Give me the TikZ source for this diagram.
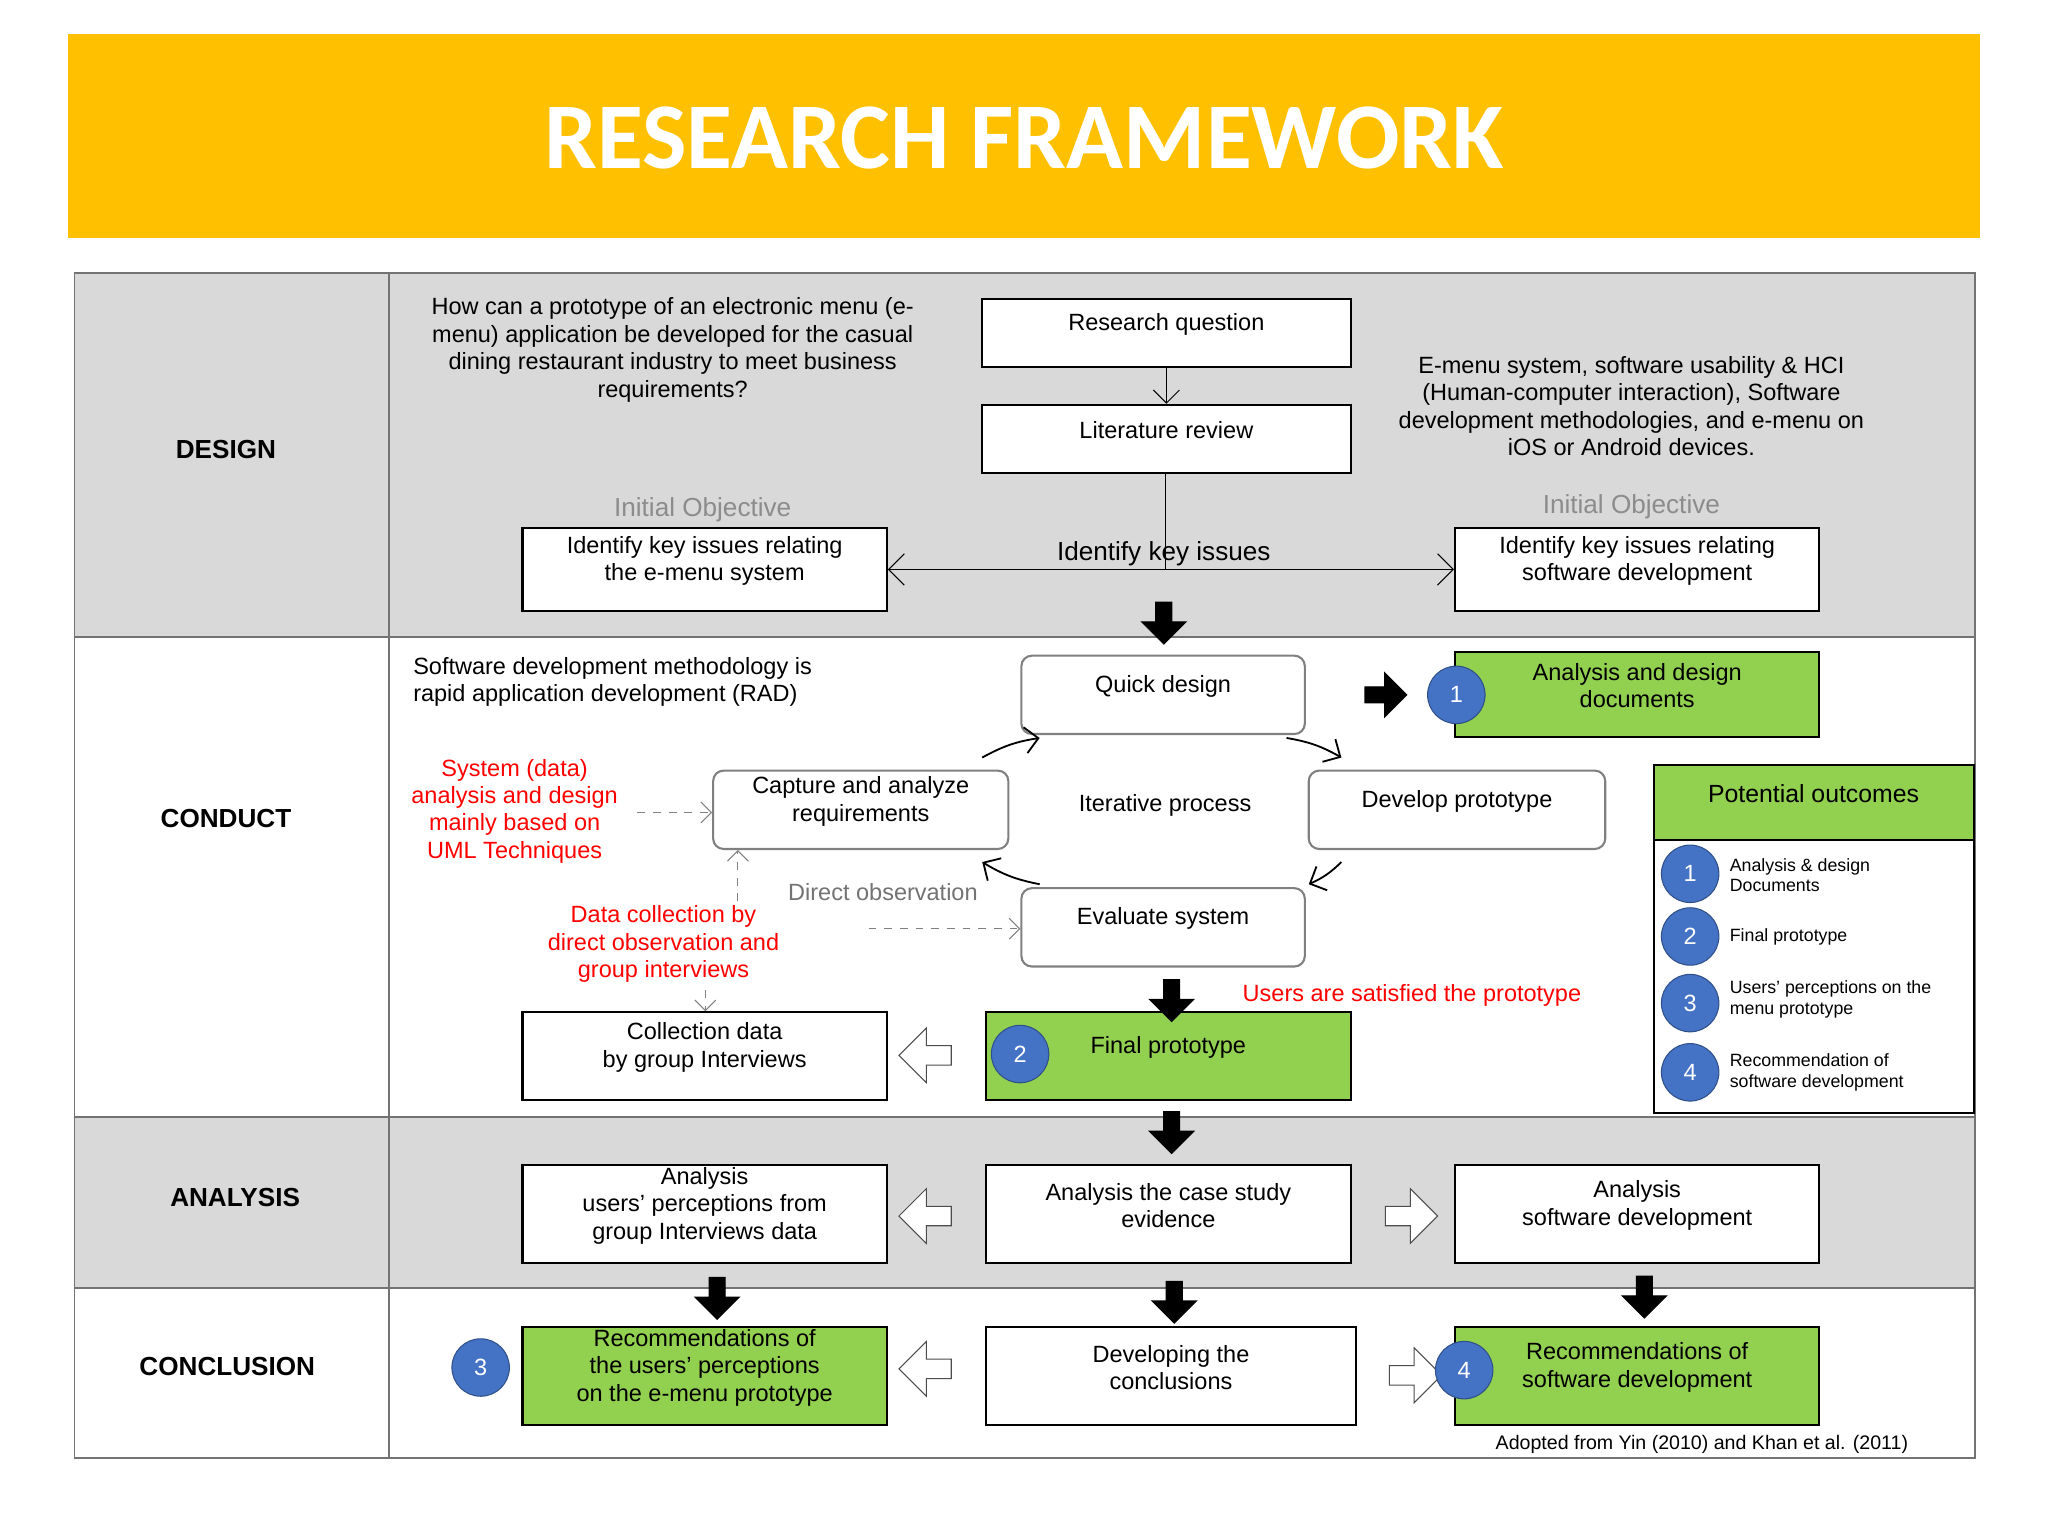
\documentclass[tikz,border=0pt]{standalone}
\usepackage{fontspec}
\setmainfont{Liberation Sans}
\newfontfamily\titlefont{Carlito}
\usetikzlibrary{fit,shapes.arrows,arrows.meta,calc}
\definecolor{gold}{HTML}{FFC000}
\definecolor{grayrow}{HTML}{D9D9D9}
\definecolor{grn}{HTML}{92D050}
\definecolor{blu}{HTML}{4472C4}
\definecolor{redt}{HTML}{FF0000}
\begin{document}
\begin{tikzpicture}[x=0.5pt,y=-0.5pt,
 box/.style={draw=black,line width=0.8pt,fill=white,inner sep=0pt,align=center,font=\fontsize{9}{10.5}\selectfont},
 gbox/.style={box,fill=grn},
 num/.style={circle,fill=blu,draw=blu!70!black,minimum size=22pt,inner sep=0pt,text=white,font=\fontsize{9}{10}\selectfont},
 snum/.style={num,minimum size=22pt},
 txt/.style={align=center,font=\fontsize{9}{10.5}\selectfont,inner sep=0pt},
 rowlab/.style={font=\bfseries\fontsize{10}{12}\selectfont},
 blk/.style={single arrow,fill=black,draw=black,minimum height=16pt,minimum width=17pt,single arrow head extend=3pt,inner sep=1.5pt},
 hol/.style={single arrow,fill=white,draw=black!70,minimum height=20pt,minimum width=21pt,single arrow head extend=4pt,inner sep=2pt},
 dsh/.style={draw=black!50,dashed,-{Straight Barb[length=4pt]}},
 cur/.style={draw=black,line width=0.7pt,-{Straight Barb[length=5pt]}},
 smalltxt/.style={font=\fontsize{6.8}{8}\selectfont,align=left,anchor=west,inner sep=0pt}]
\useasboundingbox (0,0) rectangle (1568,1176);
\fill[white] (0,0) rectangle (1568,1176);
% banner
\fill[gold] (52,26) rectangle (1516,182);
\node[text=white,font=\titlefont\bfseries\fontsize{36}{40}\selectfont] (title) at (784,106) {RESEARCH FRAMEWORK};
% table
\fill[grayrow] (57,209) rectangle (1512,488);
\fill[grayrow] (57,855) rectangle (1512,986);
\draw[black!55,line width=0.7pt] (57,209) rectangle (1512,1116);
\draw[black!55,line width=0.7pt] (298,209) -- (298,1116) (57,488) -- (1512,488) (57,855) -- (1512,855) (57,986) -- (1512,986);
\node[rowlab] (l1) at (173,344) {DESIGN};
\node[rowlab] (l2) at (173,627) {CONDUCT};
\node[rowlab] (l3) at (180,917) {ANALYSIS};
\node[rowlab] (l4) at (174,1046) {CONCLUSION};
% design
\node[txt] (q) at (515,268) {How can a prototype of an electronic menu (e-\\menu) application be developed for the casual\\dining restaurant industry to meet business\\requirements?};
\node[txt] (q2) at (1249,311) {E-menu system, software usability \& HCI\\(Human-computer interaction), Software\\development methodologies, and e-menu on\\iOS or Android devices.};
\node[box,fit={(752,229)(1034,281)}] (rq) {Research question};
\node[box,fit={(752,310)(1034,362)}] (lr) {Literature review};
\node[box,fit={(400,404)(679,468)}] (ki1) {Identify key issues relating\\the e-menu system};
\node[box,fit={(1114,404)(1393,468)}] (ki2) {Identify key issues relating\\software development};
\node[text=black!45,font=\fontsize{10}{12}\selectfont] (io1) at (538,390) {Initial Objective};
\node[text=black!45,font=\fontsize{10}{12}\selectfont] (io2) at (1249,388) {Initial Objective};
\draw[-{Straight Barb[length=5pt]}] (rq.south) -- (lr.north);
\coordinate (jn) at (892,436);
\draw (lr.south -| jn) -- (jn);
\draw[-{Straight Barb[length=6pt]}] (jn) -- (ki1.east |- jn);
\draw[-{Straight Barb[length=6pt]}] (jn) -- (ki2.west |- jn);
\node[font=\fontsize{10}{12}\selectfont] (iki) at (891,424) {Identify key issues};
\node[blk,rotate=-90] (a1) at (891,474) {};
% conduct
\node[txt,align=left,anchor=west] (sdm) at (316,522) {Software development methodology is\\rapid application development (RAD)};
\node[box,rounded corners=4pt,draw=black!50,fit={(782,502)(999,562)}] (qd) {Quick design};
\node[box,rounded corners=4pt,draw=black!50,fit={(546,590)(772,650)}] (cap) {Capture and analyze\\requirements};
\node[box,rounded corners=4pt,draw=black!50,fit={(1002,590)(1229,650)}] (dev) {Develop prototype};
\node[box,rounded corners=4pt,draw=black!50,fit={(782,680)(999,740)}] (ev) {Evaluate system};
\node[txt] (it) at (892,617) {Iterative process};
\draw[cur] (752,580) to[bend left=10] (796,565);
\draw[cur] (985,565) to[bend left=10] (1027,580);
\draw[cur] (1027,660) to[bend left=10] (1002,677);
\draw[cur] (796,677) to[bend left=10] (752,660);
\node[blk] (a2) at (1058,532) {};
\node[gbox,fit={(1114,499)(1393,564)}] (add) {Analysis and design\\documents};
\node[num] (n1) at (1115,532) {1};
\node[txt,text=redt] (red1) at (394,621) {System (data)\\analysis and design\\mainly based on\\UML Techniques};
\coordinate (d1) at (488,622);
\draw[dsh] (d1) -- (cap.west |- d1);
\coordinate (d2) at (565,690);
\draw[dsh] (d2) -- (cap.south -| d2);
\node[text=black!55,font=\fontsize{9}{10}\selectfont] (dob) at (676,683) {Direct observation};
\node[txt,text=redt] (red2) at (508,723) {Data collection by\\direct observation and\\group interviews};
\coordinate (d3) at (665,711);
\draw[dsh] (d3) -- (ev.west |- d3);
\node[box,fit={(400,775)(679,842)}] (cd) {Collection data\\by group Interviews};
\coordinate (d4) at (540,758);
\draw[dsh] (d4) -- (cd.north -| d4);
\node[hol,shape border rotate=180] (h1) at (712,808) {};
\node[gbox,fit={(755,775)(1034,842)}] (fp) {Final prototype};
\node[num] (n2) at (781,807) {2};
\node[blk,rotate=-90] (a3) at (897,763) {};
\node[text=redt,font=\fontsize{9}{10}\selectfont] (usr) at (1081,762) {Users are satisfied the prototype};
\node[blk,rotate=-90] (a4) at (897,864) {};
% potential outcomes
\node[box,fit={(1266,586)(1511,852)}] (po) {};
\node[gbox,fit={(1266,586)(1511,643)},font=\fontsize{9.5}{11}\selectfont] (poh) {Potential outcomes};
\node[snum] (p1) at (1294,669) {1};
\node[snum] (p2) at (1294,717) {2};
\node[snum] (p3) at (1294,768) {3};
\node[snum] (p4) at (1294,821) {4};
\node[smalltxt] (t1) at (1324,670) {Analysis \& design\\Documents};
\node[smalltxt] (t2) at (1324,717) {Final prototype};
\node[smalltxt] (t3) at (1324,765) {Users' perceptions on the\\menu prototype};
\node[smalltxt] (t4) at (1324,821) {Recommendation of\\software development};
% analysis
\node[box,fit={(400,892)(679,967)}] (an1) {Analysis\\users' perceptions from\\group Interviews data};
\node[box,fit={(755,892)(1034,967)}] (an2) {Analysis the case study\\evidence};
\node[box,fit={(1114,892)(1393,967)}] (an3) {Analysis\\software development};
\node[hol,shape border rotate=180] (h2) at (712,931) {};
\node[hol] (h3) at (1077,931) {};
\node[blk,rotate=-90] (b1) at (549,991) {};
\node[blk,rotate=-90] (b2) at (899,994) {};
\node[blk,rotate=-90] (b3) at (1259,990) {};
% conclusion
\node[gbox,fit={(400,1016)(679,1091)}] (c1) {Recommendations of\\the users' perceptions\\on the e-menu prototype};
\node[box,fit={(755,1016)(1038,1091)}] (c2) {Developing the\\conclusions};
\node[gbox,fit={(1114,1016)(1393,1091)}] (c3) {Recommendations of\\software development};
\node[num] (n3) at (368,1047) {3};
\node[hol,shape border rotate=180] (h4) at (712,1048) {};
\node[hol] (h5) at (1080,1053) {};
\node[num] (n4) at (1121,1049) {4};
\node[font=\fontsize{7.5}{9}\selectfont] (adp) at (1303,1106) {Adopted from Yin (2010) and Khan et al. (2011)};
\end{tikzpicture}
\end{document}
